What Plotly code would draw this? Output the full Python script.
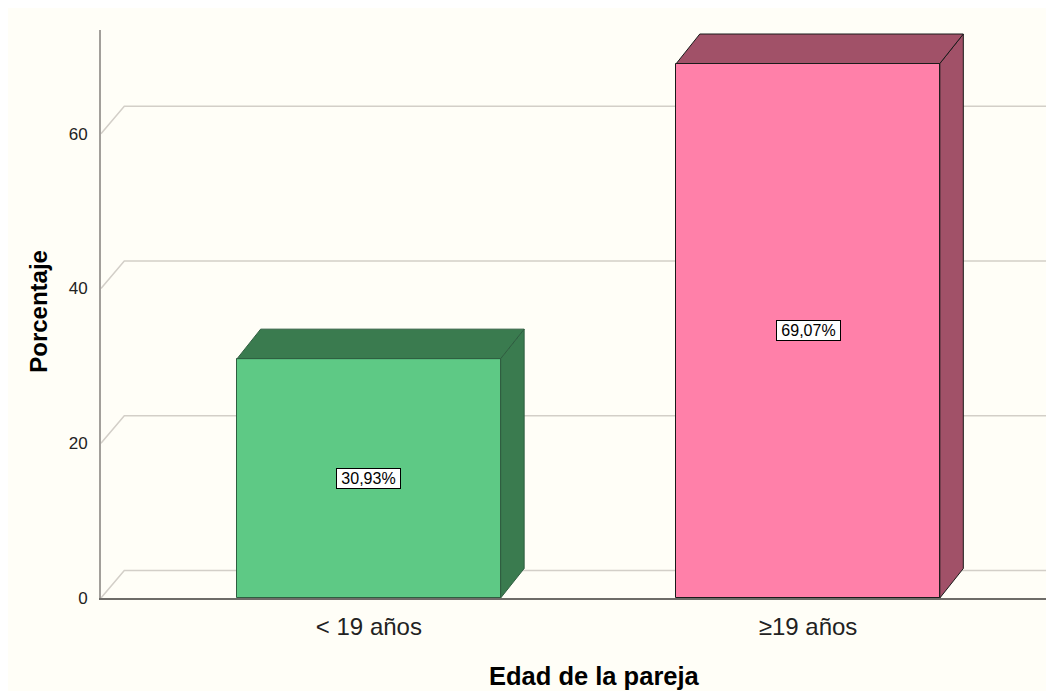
import plotly.graph_objects as go

# ---- data ----
categories = ["< 19 años", "≥19 años"]
percentages = [30.93, 69.07]
front_colors = ["#5EC985", "#FF80A9"]
side_colors = ["#3A7B4F", "#A15168"]
edge_colors = ["#2F5E40", "#1A1A1A"]
y_ticks = [0, 20, 40, 60]
x_title = "Edad de la pareja"
y_title = "Porcentaje"

# ---- layout constants ----
FONT = "Arial, 'Liberation Sans', sans-serif"
CREAM = "#FFFEF7"
FIG_W, FIG_H = 1046, 683
M_L, M_R, M_T, M_B = 93, 0, 22, 93
PLOT_W = FIG_W - M_L - M_R
PLOT_H = FIG_H - M_T - M_B
X_RANGE = [-0.61, 1.56]
Y_RANGE = [0, 73.4]
BAR_W = 0.6

px_x = PLOT_W / (X_RANGE[1] - X_RANGE[0])
px_y = PLOT_H / (Y_RANGE[1] - Y_RANGE[0])


def depth(dx_px, dy_px):
    return dx_px / px_x, dy_px / px_y


BAR_DX, BAR_DY = depth(23.5, 29.5)
GRID_DX, GRID_DY = depth(23.3, 27.5)

fig = go.Figure()

# 3D faces (side + top) of each bar
for i, v in enumerate(percentages):
    x0, x1 = i - BAR_W / 2, i + BAR_W / 2
    fig.add_trace(go.Scatter(
        x=[x1, x1 + BAR_DX, x1 + BAR_DX, x1, x1],
        y=[0, BAR_DY, v + BAR_DY, v, 0],
        fill="toself", fillcolor=side_colors[i], mode="lines",
        line=dict(color=edge_colors[i], width=1),
        hoverinfo="skip", showlegend=False))
    fig.add_trace(go.Scatter(
        x=[x0, x0 + BAR_DX, x1 + BAR_DX, x1, x0],
        y=[v, v + BAR_DY, v + BAR_DY, v, v],
        fill="toself", fillcolor=side_colors[i], mode="lines",
        line=dict(color=edge_colors[i], width=1),
        hoverinfo="skip", showlegend=False))

# front faces
fig.add_trace(go.Bar(
    x=list(range(len(categories))), y=percentages, width=BAR_W,
    marker=dict(color=front_colors, line=dict(color=edge_colors, width=1)),
    hoverinfo="skip", showlegend=False))

# 3D gridlines (wall + floor)
shapes = []
for t in y_ticks:
    shapes.append(dict(
        type="path", xref="x", yref="y", layer="below",
        path=(f"M {X_RANGE[0]},{t} L {X_RANGE[0] + GRID_DX},{t + GRID_DY} "
              f"L {X_RANGE[1]},{t + GRID_DY}"),
        line=dict(color="#D3CFC8", width=1.5)))

annotations = []
for i, v in enumerate(percentages):
    annotations.append(dict(
        x=i, y=v / 2, xref="x", yref="y",
        text=f"{v:.2f}".replace(".", ",") + "%", showarrow=False,
        bgcolor="white", bordercolor="black", borderwidth=1, borderpad=1,
        width=61, height=17,
        font=dict(family=FONT, size=16, color="black")))

annotations.append(dict(
    x=0.518, y=-0.137, xref="paper", yref="paper", text=x_title,
    showarrow=False, xanchor="center", yanchor="middle",
    font=dict(family=FONT, size=25.5, color="black", weight="bold")))
annotations.append(dict(
    x=-0.065, y=0.504, xref="paper", yref="paper", text=y_title,
    showarrow=False, xanchor="center", yanchor="middle", textangle=-90,
    font=dict(family=FONT, size=24, color="black", weight="bold")))

fig.update_layout(
    width=FIG_W, height=FIG_H, autosize=False,
    margin=dict(l=M_L, r=M_R, t=M_T, b=M_B, pad=0),
    paper_bgcolor=CREAM, plot_bgcolor=CREAM,
    shapes=shapes, annotations=annotations,
    font=dict(family=FONT, color="#222"),
    bargap=0,
)
fig.update_xaxes(
    range=X_RANGE, tickvals=list(range(len(categories))), ticktext=categories,
    showgrid=False, zeroline=False, showline=True, linecolor="#6E6C68",
    linewidth=2, ticks="", ticklabelstandoff=6,
    tickfont=dict(family=FONT, size=24, color="#222"), fixedrange=True)
fig.update_yaxes(
    range=Y_RANGE, tickvals=y_ticks, showgrid=False, zeroline=False,
    showline=True, linecolor="#A29F9A", linewidth=2, ticks="",
    ticklabelstandoff=8, tickfont=dict(family=FONT, size=17, color="#222"),
    fixedrange=True)

fig.write_html("out.html")
